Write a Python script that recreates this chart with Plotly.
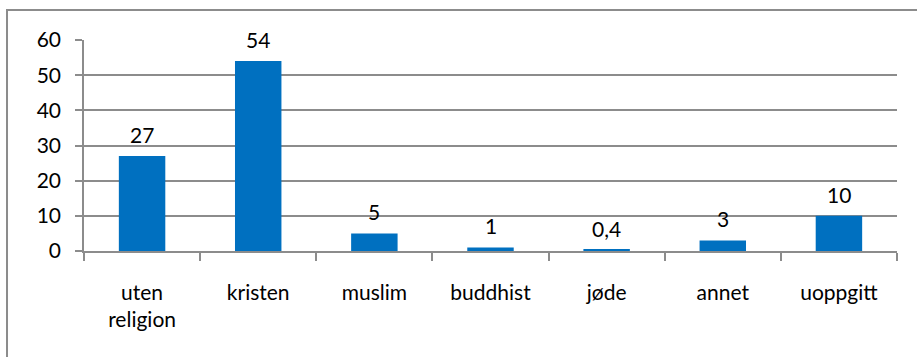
import plotly.graph_objects as go

categories = ["uten<br>religion", "kristen", "muslim", "buddhist", "jøde", "annet", "uoppgitt"]
values = [27, 54, 5, 1, 0.4, 3, 10]
value_labels = ["27", "54", "5", "1", "0,4", "3", "10"]
y_ticks = [0, 10, 20, 30, 40, 50, 60]

FONT = "Lato"
GRAY = "#8c8c8c"
FS = 21

fig = go.Figure()
fig.add_trace(go.Bar(x=categories, y=values, marker=dict(color="#0070C0", line=dict(width=0)),
                     hoverinfo="skip"))

for c, v, t in zip(categories, values, value_labels):
    fig.add_annotation(x=c, y=v, text=t, showarrow=False, yanchor="bottom", yshift=7,
                       font=dict(family=FONT, size=FS, color="black"))

# outer chart border (left & top visible, extends beyond the window)
fig.add_shape(type="rect", xref="paper", yref="paper", x0=-0.0947, x1=1.2, y0=-1.0, y1=1.142,
              line=dict(color=GRAY, width=2), fillcolor="rgba(0,0,0,0)", layer="below")

fig.update_layout(
    width=917, height=357,
    margin=dict(l=84, r=20, t=40, b=106),
    paper_bgcolor="white", plot_bgcolor="white",
    bargap=0.6, showlegend=False,
    font=dict(family=FONT, size=FS, color="black"),
)
fig.update_xaxes(showline=True, linecolor=GRAY, linewidth=1.5, ticks="outside", ticklen=8,
                 tickcolor=GRAY, tickwidth=1.5, tickson="boundaries", showgrid=False,
                 tickfont=dict(family=FONT, size=FS), ticklabelstandoff=22)
fig.update_yaxes(range=[0, 60], tickvals=y_ticks, showline=True, linecolor=GRAY, linewidth=1.5,
                 ticks="outside", ticklen=7, tickcolor=GRAY, tickwidth=1.5, showgrid=True,
                 gridcolor=GRAY, gridwidth=1.5, zeroline=False,
                 tickfont=dict(family=FONT, size=FS), ticklabelstandoff=10)

fig.write_html("out.html")
